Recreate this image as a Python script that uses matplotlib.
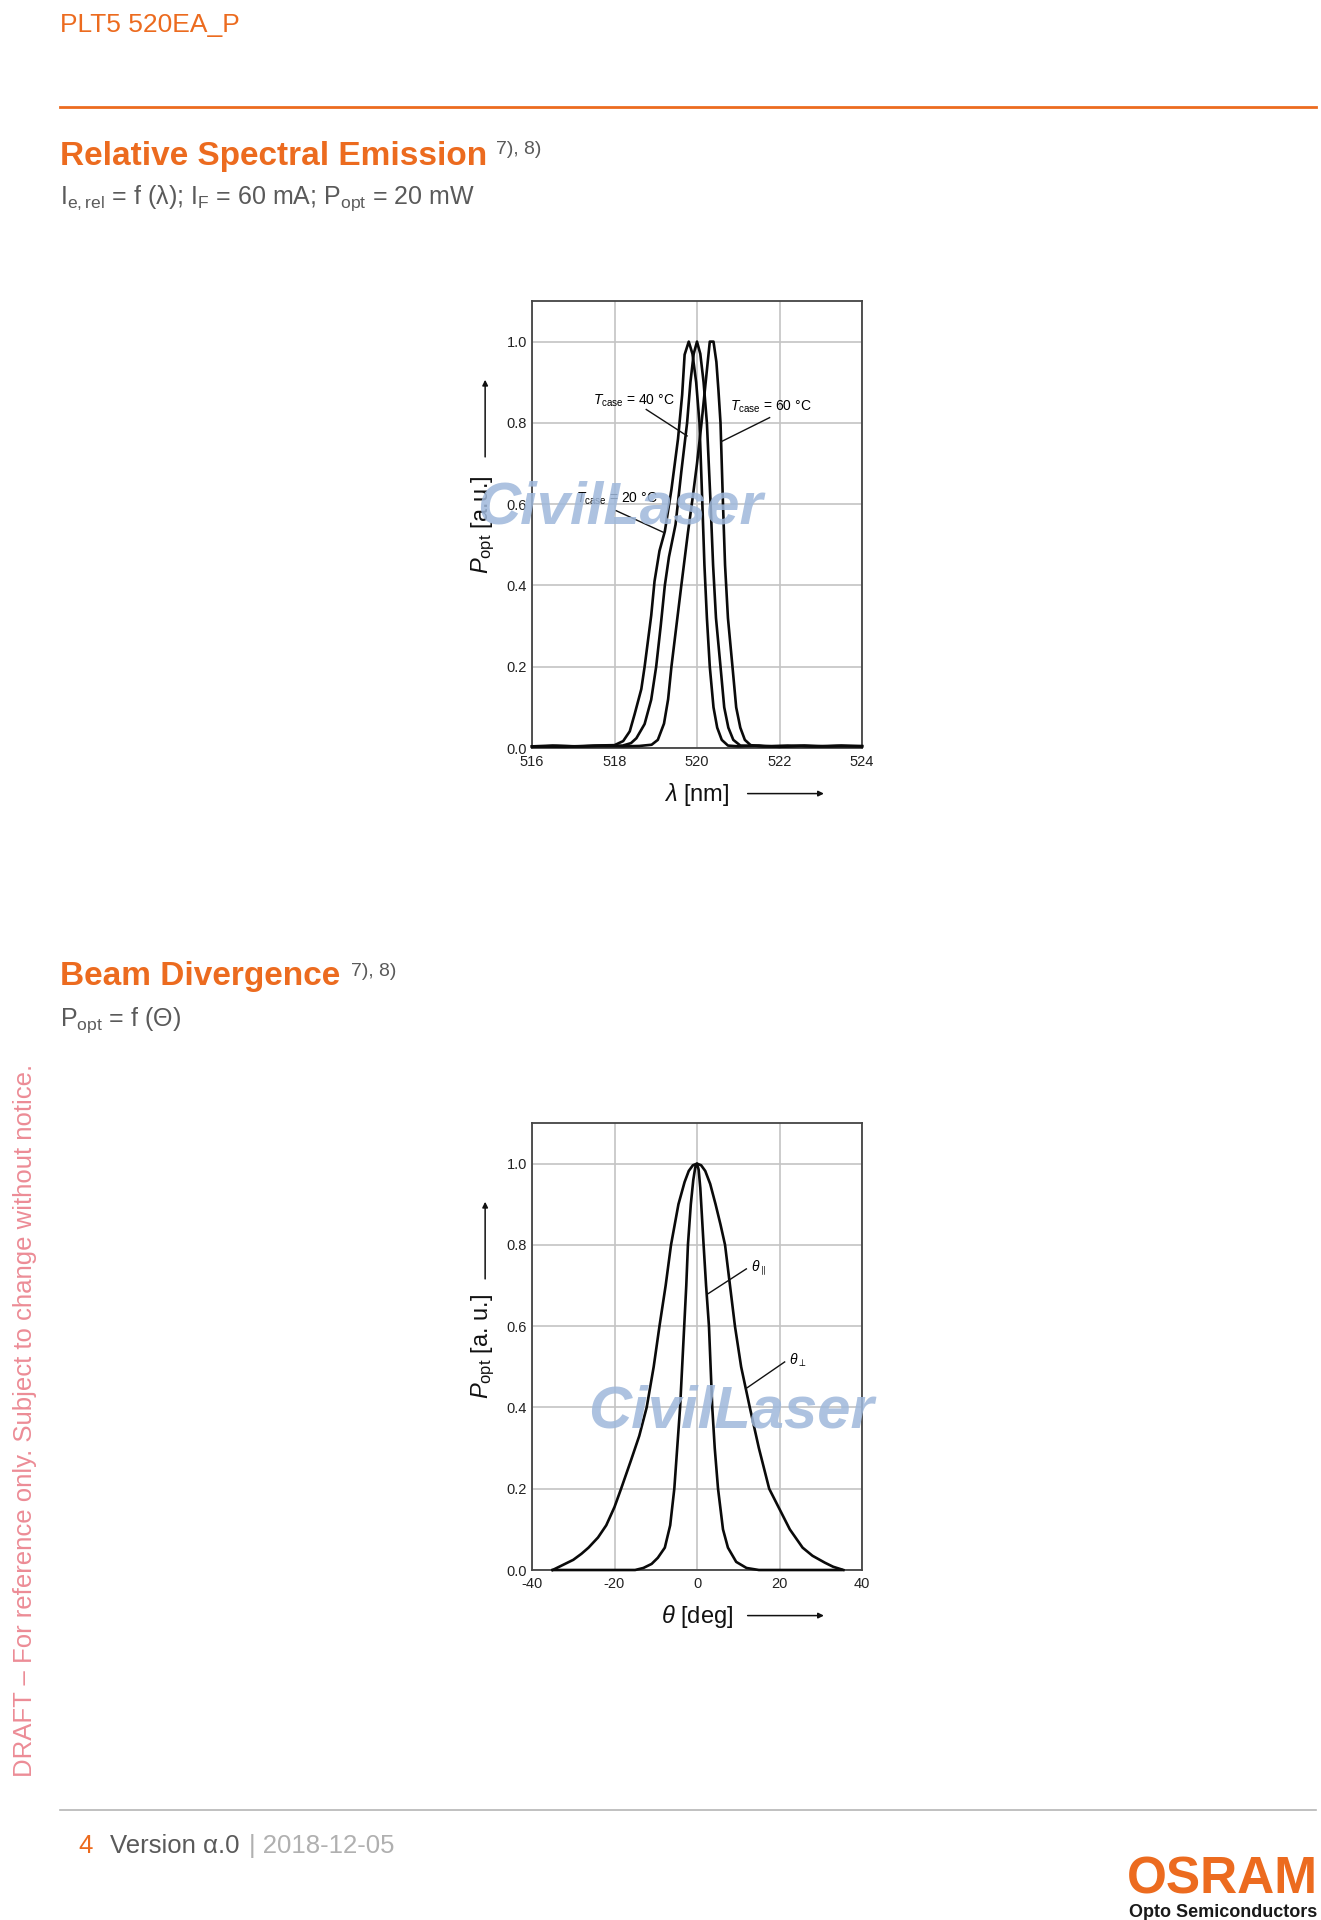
import numpy as np
import matplotlib
matplotlib.use("Agg")
import matplotlib.pyplot as plt

plt.rcParams['font.family'] = ['Liberation Sans', 'DejaVu Sans']
plt.rcParams['mathtext.fontset'] = 'custom'
plt.rcParams['mathtext.rm'] = 'Liberation Sans'
plt.rcParams['mathtext.it'] = 'Liberation Sans:italic'
plt.rcParams['mathtext.bf'] = 'Liberation Sans:bold'
plt.rcParams['axes.unicode_minus'] = False

# ---- data: relative spectral emission ----
wl_20 = [516.0, 516.5, 517.0, 517.5, 518.0, 518.21, 518.37, 518.49, 518.65, 518.73,
         518.89, 518.97, 519.09, 519.22, 519.38, 519.54, 519.64, 519.70, 519.80,
         519.89, 519.98, 520.06, 520.13, 520.18, 520.24, 520.31, 520.40, 520.49,
         520.60, 520.75, 521.0, 521.5, 522.0, 522.5, 523.0, 523.5, 524.0]
p_20 = [0.004, 0.006, 0.004, 0.006, 0.007, 0.017, 0.041, 0.084, 0.145, 0.20,
        0.326, 0.41, 0.485, 0.533, 0.636, 0.761, 0.869, 0.968, 1.0,
        0.97, 0.90, 0.80, 0.60, 0.45, 0.32, 0.20, 0.10, 0.05,
        0.02, 0.006, 0.004, 0.006, 0.003, 0.005, 0.004, 0.006, 0.004]

wl_40 = [516.0, 516.6, 517.2, 517.8, 518.2, 518.4, 518.53, 518.73, 518.89, 519.01,
         519.12, 519.22, 519.32, 519.48, 519.62, 519.76, 519.84, 519.92, 520.0,
         520.08, 520.16, 520.24, 520.33, 520.39, 520.46, 520.57, 520.66, 520.76,
         520.88, 521.05, 521.4, 522.0, 522.6, 523.2, 524.0]
p_40 = [0.003, 0.005, 0.004, 0.005, 0.006, 0.012, 0.024, 0.059, 0.119, 0.20,
        0.30, 0.40, 0.47, 0.55, 0.68, 0.80, 0.90, 0.97, 1.0,
        0.97, 0.90, 0.80, 0.60, 0.45, 0.32, 0.20, 0.10, 0.05,
        0.02, 0.006, 0.005, 0.003, 0.006, 0.004, 0.005]

wl_60 = [516.0, 516.8, 517.6, 518.2, 518.6, 518.9, 519.05, 519.2, 519.3, 519.38,
         519.5, 519.62, 519.78, 519.9, 520.0, 520.11, 520.21, 520.27, 520.31,
         520.40, 520.47, 520.52, 520.57, 520.63, 520.68, 520.75, 520.86, 520.95,
         521.05, 521.16, 521.3, 521.6, 522.2, 522.8, 523.4, 524.0]
p_60 = [0.004, 0.003, 0.005, 0.004, 0.005, 0.008, 0.02, 0.06, 0.12, 0.20,
        0.30, 0.40, 0.53, 0.62, 0.70, 0.80, 0.90, 0.96, 1.0,
        1.0, 0.95, 0.88, 0.80, 0.60, 0.45, 0.32, 0.20, 0.10,
        0.05, 0.02, 0.007, 0.004, 0.006, 0.004, 0.005, 0.004]

# ---- data: beam divergence ----
ang_perp = [-35.0, -33.0, -30.0, -28.0, -26.3, -24.0, -22.0, -20.0, -18.4, -16.0,
            -14.0, -12.2, -10.5, -9.1, -7.6, -6.3, -4.5, -3.0, -2.0, -1.0,
            0.0, 1.0, 2.0, 3.2, 4.5, 5.7, 6.8, 8.0, 9.2, 10.7,
            12.8, 15.0, 17.5, 20.0, 22.5, 25.6, 28.0, 31.0, 33.0, 35.5]
p_perp = [0.0, 0.01, 0.025, 0.04, 0.055, 0.08, 0.11, 0.155, 0.20, 0.27,
          0.33, 0.40, 0.50, 0.60, 0.70, 0.80, 0.90, 0.955, 0.982, 0.996,
          1.0, 0.996, 0.982, 0.95, 0.90, 0.85, 0.80, 0.70, 0.60, 0.50,
          0.40, 0.30, 0.20, 0.15, 0.10, 0.055, 0.035, 0.018, 0.008, 0.0]

ang_par = [-35.0, -15.0, -13.0, -11.0, -9.5, -7.8, -6.5, -5.5, -4.8, -4.1,
           -3.6, -3.1, -2.6, -2.2, -1.5, -0.9, -0.4, 0.0, 0.4, 0.8,
           1.2, 1.6, 2.2, 2.9, 3.3, 3.7, 4.3, 5.1, 6.3, 7.5,
           9.5, 12.0, 15.0, 35.0]
p_par = [0.0, 0.0, 0.005, 0.015, 0.03, 0.055, 0.11, 0.20, 0.30, 0.40,
         0.50, 0.60, 0.70, 0.80, 0.90, 0.96, 0.992, 1.0, 0.985, 0.94,
         0.87, 0.80, 0.70, 0.60, 0.50, 0.40, 0.30, 0.20, 0.10, 0.055,
         0.02, 0.005, 0.0, 0.0]

y_ticks = [0.0, 0.2, 0.4, 0.6, 0.8, 1.0]
wl_ticks = [516, 518, 520, 522, 524]
ang_ticks = [-40, -20, 0, 20, 40]

W, H = 1321, 1920
ORANGE = '#ec6b1f'
GRAY_TXT = '#5a5a5a'


def fx(x):
    return x / W


def fy(y):
    return 1 - y / H


def setup_axes(ax, xlim, xticks, xlabel, ylabel):
    ax.set_xlim(*xlim)
    ax.set_ylim(0, 1.1)
    ax.set_xticks(xticks)
    ax.set_xticklabels([str(t) for t in xticks])
    ax.set_yticks(y_ticks)
    ax.set_yticklabels([f"{v:.1f}" for v in y_ticks])
    ax.grid(True, color='#c4c4c4', lw=1.2)
    ax.set_axisbelow(True)
    ax.tick_params(length=0, labelsize=10.5, colors='#222222')
    ax.tick_params(axis='x', pad=5)
    ax.tick_params(axis='y', pad=3.5)
    for s in ax.spines.values():
        s.set_color('#444444')
        s.set_linewidth(1.3)
    ax.text(0.5, -0.104, xlabel, transform=ax.transAxes, ha='center', va='center',
            fontsize=17, color='#111111')
    ax.annotate('', xy=(0.893, -0.102), xytext=(0.645, -0.102), xycoords='axes fraction',
                annotation_clip=False,
                arrowprops=dict(arrowstyle='-|>', lw=1.1, color='#111111', mutation_scale=8))
    ax.text(-0.148, 0.50, ylabel, transform=ax.transAxes, ha='center', va='center',
            rotation=90, fontsize=17, color='#111111')
    ax.annotate('', xy=(-0.142, 0.83), xytext=(-0.142, 0.645), xycoords='axes fraction',
                annotation_clip=False,
                arrowprops=dict(arrowstyle='-|>', lw=1.1, color='#111111', mutation_scale=8))


def leader(ax, xy_from, xy_to, label, xy_text):
    ax.plot([xy_from[0], xy_to[0]], [xy_from[1], xy_to[1]], color='#111111', lw=1.0, zorder=4)
    ax.text(xy_text[0], xy_text[1], label, fontsize=10, ha='left', va='center', zorder=5)


fig = plt.figure(figsize=(W / 100, H / 100), dpi=100)

# ---- page decoration ----
fig.text(fx(60), fy(32), "PLT5 520EA_P", color=ORANGE, fontsize=19, va='baseline')
fig.add_artist(plt.Line2D([fx(60), fx(1316)], [fy(106.5), fy(106.5)], color=ORANGE, lw=2))

fig.text(fx(60), fy(165), "Relative Spectral Emission", color=ORANGE, fontsize=24,
         fontweight='bold', va='baseline')
fig.text(fx(496), fy(154), "7), 8)", color=GRAY_TXT, fontsize=14, va='baseline')
fig.text(fx(60), fy(204), r"I$_{\rm e,rel}$ = f (λ); I$_{\rm F}$ = 60 mA; P$_{\rm opt}$ = 20 mW",
         color=GRAY_TXT, fontsize=18, va='baseline')

fig.text(fx(60), fy(985), "Beam Divergence", color=ORANGE, fontsize=24,
         fontweight='bold', va='baseline')
fig.text(fx(351), fy(976), "7), 8)", color=GRAY_TXT, fontsize=14, va='baseline')
fig.text(fx(60), fy(1026), r"P$_{\rm opt}$ = f (Θ)", color=GRAY_TXT, fontsize=18, va='baseline')

fig.text(fx(25), fy(1420), "DRAFT – For reference only. Subject to change without notice.",
         color='#ec8c96', fontsize=18.5, rotation=90, ha='center', va='center')

fig.add_artist(plt.Line2D([fx(60), fx(1316)], [fy(1810), fy(1810)], color='#b5b5b5', lw=1.2))
fig.text(fx(78), fy(1853), "4", color=ORANGE, fontsize=18.5, va='baseline')
fig.text(fx(110), fy(1853), "Version α.0", color=GRAY_TXT, fontsize=18.5, va='baseline')
fig.text(fx(249), fy(1853), "| 2018-12-05", color='#b0b0b0', fontsize=18.5, va='baseline')
fig.text(fx(1318), fy(1893), "OSRAM", color=ORANGE, fontsize=37, fontweight='bold',
         ha='right', va='baseline')
fig.text(fx(1317), fy(1917), "Opto Semiconductors", color='#1a1a1a', fontsize=13,
         fontweight='bold', ha='right', va='baseline')

# ---- chart 1: spectrum ----
ax1 = fig.add_axes([fx(532), fy(748), 330 / W, 447 / H])
setup_axes(ax1, (516, 524), wl_ticks, r"$\lambda$ [nm]", r"$P_{\rm opt}$ [a.u.]")
for wl, p in [(wl_20, p_20), (wl_40, p_40), (wl_60, p_60)]:
    ax1.plot(wl, p, color='#0a0a0a', lw=1.9, zorder=3, clip_on=False)
leader(ax1, (518.77, 0.833), (519.76, 0.768), r"$T_{\rm case}$ = 40 °C", (517.48, 0.855))
leader(ax1, (521.76, 0.813), (520.59, 0.754), r"$T_{\rm case}$ = 60 °C", (520.79, 0.84))
leader(ax1, (518.04, 0.584), (519.18, 0.531), r"$T_{\rm case}$ = 20 °C", (517.07, 0.613))

# ---- chart 2: beam divergence ----
ax2 = fig.add_axes([fx(532), fy(1570), 330 / W, 447 / H])
setup_axes(ax2, (-40, 40), ang_ticks, r"$\theta$ [deg]", r"$P_{\rm opt}$ [a. u.]")
ax2.plot(ang_perp, p_perp, color='#0a0a0a', lw=1.9, zorder=3, clip_on=False)
ax2.plot(ang_par, p_par, color='#0a0a0a', lw=1.9, zorder=3, clip_on=False)
leader(ax2, (2.4, 0.678), (11.96, 0.741), r"$\theta_{\parallel}$", (13.0, 0.745))
leader(ax2, (11.8, 0.446), (21.25, 0.512), r"$\theta_{\perp}$", (22.2, 0.515))

# ---- watermark ----
for x0, yb in [(477, 524), (588, 1427)]:
    fig.text(fx(x0), fy(yb), "CivilLaser", color='#9fb8db', alpha=0.85, fontsize=43,
             fontweight='bold', fontstyle='italic', va='baseline', zorder=2)

fig.savefig("out.png", dpi=100)
